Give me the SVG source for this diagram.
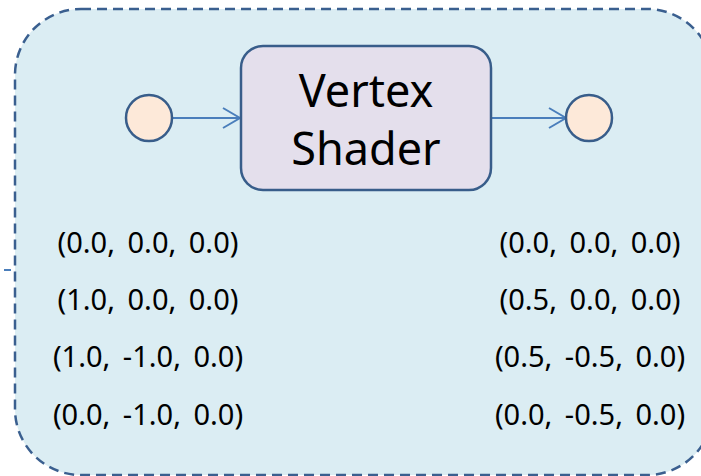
<svg xmlns="http://www.w3.org/2000/svg" width="701" height="476" viewBox="0 0 701 476">
  <style>
    .panel { fill: #dbedf3; stroke: #3a5f8f; stroke-width: 2.5; stroke-dasharray: 10 6; }
    .port { fill: #fde9d9; stroke: #385d8a; stroke-width: 2.5; }
    .shader { fill: #e4dfec; stroke: #385d8a; stroke-width: 2.5; }
    .edge { fill: none; stroke: #4a7ebb; stroke-width: 2; }
    .title { font-family: "Noto Sans", "Open Sans", sans-serif; font-size: 45px; fill: #000; text-anchor: middle; }
    .coord { font-family: "Noto Sans", "Open Sans", sans-serif; font-size: 29px; fill: #000; text-anchor: middle; word-spacing: 5px; }
  </style>
  <defs>
    <marker id="open-arrow" viewBox="0 0 20 24" refX="18" refY="12" markerWidth="20" markerHeight="24" markerUnits="userSpaceOnUse" orient="auto">
      <path d="M1,2 L18,12 L1,22" fill="none" stroke="#4a7ebb" stroke-width="2"/>
    </marker>
  </defs>

  <!-- dashed container panel -->
  <rect class="panel" x="15" y="9" width="698" height="466" rx="66" ry="66"/>

  <!-- connectors -->
  <g id="connectors">
    <line class="edge" x1="172" y1="118" x2="240" y2="118" marker-end="url(#open-arrow)"/>
    <line class="edge" x1="491" y1="118" x2="566" y2="118" marker-end="url(#open-arrow)"/>
    <line class="edge" x1="4" y1="270" x2="11" y2="270"/>
  </g>

  <g id="input-port">
    <circle class="port" cx="149" cy="118" r="23"/>
  </g>

  <g id="vertex-shader">
    <rect class="shader" x="241" y="46" width="250" height="144" rx="22" ry="22"/>
    <text class="title" x="366" y="107">Vertex</text>
    <text class="title" x="366" y="165">Shader</text>
  </g>

  <g id="output-port">
    <circle class="port" cx="589" cy="118" r="23"/>
  </g>

  <g id="input-coords">
    <text class="coord" x="148" y="253">(0.0, 0.0, 0.0)</text>
    <text class="coord" x="148" y="310">(1.0, 0.0, 0.0)</text>
    <text class="coord" x="148" y="367">(1.0, -1.0, 0.0)</text>
    <text class="coord" x="148" y="425">(0.0, -1.0, 0.0)</text>
  </g>

  <g id="output-coords">
    <text class="coord" x="590" y="253">(0.0, 0.0, 0.0)</text>
    <text class="coord" x="590" y="310">(0.5, 0.0, 0.0)</text>
    <text class="coord" x="590" y="367">(0.5, -0.5, 0.0)</text>
    <text class="coord" x="590" y="425">(0.0, -0.5, 0.0)</text>
  </g>
</svg>
